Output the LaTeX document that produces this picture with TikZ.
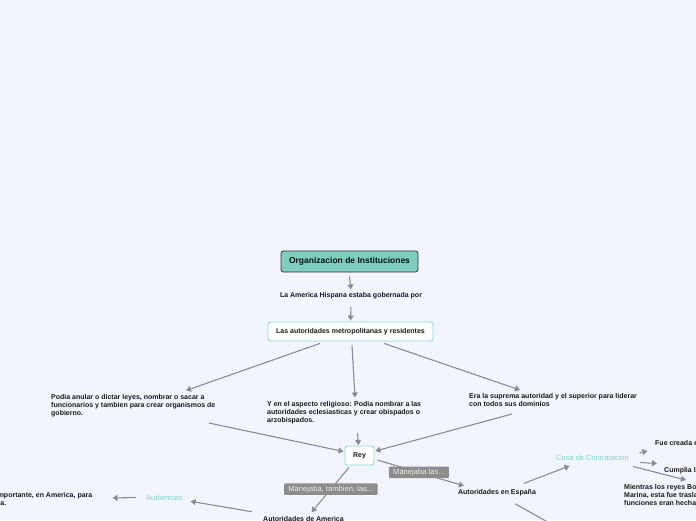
\documentclass[tikz,border=0pt]{standalone}
\usepackage{fontspec}
\setmainfont{Liberation Sans}
\usetikzlibrary{arrows.meta,calc}
\definecolor{bg}{HTML}{F3F5FE}
\definecolor{tealfill}{HTML}{7FCDBF}
\definecolor{tealline}{HTML}{8ED8D0}
\definecolor{tealtext}{HTML}{7DD3C8}
\definecolor{arrgray}{HTML}{8A8A92}
\definecolor{lblgray}{HTML}{8C8C8C}
\begin{document}
\begin{tikzpicture}[x=1pt,y=-1pt,
  txt/.style={font=\fontsize{7}{8}\selectfont\bfseries, text=black!90, inner sep=0pt, align=left},
  box/.style={draw=tealline, fill=white, rounded corners=2.5pt, line width=0.9pt, inner sep=0pt,
    font=\fontsize{7}{8}\selectfont\bfseries, text=black!90},
  topic/.style={font=\fontsize{7.5}{9}\selectfont, text=tealtext, inner sep=0pt},
  arr/.style={draw=arrgray, line width=1.1pt, -{Triangle[length=5pt,width=6pt]}},
  lbl/.style={fill=lblgray, text=white!92!black, rounded corners=1pt, inner sep=0pt,
    font=\fontsize{7.6}{9}\selectfont}
]
\useasboundingbox (0,0) rectangle (696,520);
\clip (0,0) rectangle (696,520);
\fill[bg] (0,0) rectangle (696,520);

% main nodes
\node[draw=black!80, fill=tealfill, rounded corners=2.5pt, line width=0.8pt,
  minimum width=137pt, minimum height=21pt, inner sep=0pt,
  font=\fontsize{8.5}{10}\selectfont\bfseries, text=black!85!teal] (title) at (349.5,261.5) {Organizacion de Instituciones};
\node[txt] (gob) at (351,296) {La America Hispana estaba gobernada por};
\node[box, minimum width=165pt, minimum height=19pt] (auth) at (350.5,331.5) {Las autoridades metropolitanas y residentes};
\node[txt, anchor=north west] (left) at (51,394.5) {Podia anular o dictar leyes, nombrar o sacar a\\funcionarios y tambien para crear organismos de\\gobierno.};
\node[txt, anchor=north west] (mid) at (267,401.5) {Y en el aspecto religioso: Podia nombrar a las\\autoridades eclesiasticas y crear obispados o\\arzobispados.};
\node[txt, anchor=north west] (right) at (469,393.5) {Era la suprema autoridad y el superior para liderar\\con todos sus dominios};
\node[box, minimum width=29pt, minimum height=19pt] (rey) at (359.5,455.5) {Rey};
\node[txt] (esp) at (497,492.3) {Autoridades en España};
\node[txt] (ame) at (303.5,519) {Autoridades de America};
\node[topic] (casa) at (592.5,457.5) {Casa de Contratacion};
\node[topic] (aud) at (164.5,497.5) {Audiencias};
\node[txt, align=right, anchor=north east] (audtxt) at (92.5,492.5) {El tribunal de justicia mas importante, en America, para\\administrar la justicia.\kern86pt};
\node[txt, anchor=north west] (fue) at (655,440.5) {Fue creada en 1503};
\node[txt, anchor=north west] (cum) at (664,467) {Cumplia la funcion};
\node[txt, anchor=north west] (mie) at (624,484.5) {Mientras los reyes Borbones\\Marina, esta fue trasladada\\funciones eran hechas};
\coordinate (espdown) at (571,535);

% connectors
\draw[arr] ([yshift=-4pt]title.south) -- ([yshift=3pt]gob.north);
\draw[arr] ([yshift=-7.5pt]gob.south) -- ([yshift=1pt]auth.north);
\draw[arr] ([xshift=-30.5pt,yshift=-2pt]auth.south) -- ([xshift=135pt,yshift=4pt]left.north west);
\draw[arr] ([xshift=1.5pt,yshift=-4pt]auth.south) -- ([xshift=88pt,yshift=4pt]mid.north west);
\draw[arr] ([xshift=33.5pt,yshift=-2pt]auth.south) -- ([xshift=51pt,yshift=3.5pt]right.north west);
\draw[arr] ([xshift=158pt,yshift=-28.5pt]left.north west) -- ([xshift=-1pt,yshift=4pt]rey.west);
\draw[arr] ([xshift=90.5pt,yshift=-31.5pt]mid.north west) -- ([xshift=-1pt,yshift=0.5pt]rey.north);
\draw[arr] ([xshift=43pt,yshift=-20.5pt]right.north west) -- ([xshift=1pt,yshift=4.5pt]rey.east);
\draw[arr] ([xshift=3pt,yshift=-4.5pt]rey.east) -- node[lbl, pos=0.48, minimum width=60pt, minimum height=11.5pt] {Manejaba las...} ([xshift=6pt,yshift=3pt]esp.north west);
\draw[arr] ([xshift=-10.5pt,yshift=-2pt]rey.south) -- node[lbl, pos=0.485, minimum width=93.5pt, minimum height=11.5pt] {Manejaba, tambien, las...} ([xshift=8pt,yshift=4pt]ame.north);
\draw[arr] ([xshift=-51.5pt,yshift=4.5pt]ame.north) -- ([xshift=7.5pt,yshift=-3.8pt]aud.east);
\draw[arr] ([xshift=-10pt]aud.west) -- ([xshift=20pt,yshift=-5.5pt]audtxt.north east);
\draw[arr] ([xshift=27pt,yshift=5.5pt]esp.north) -- ([xshift=-23pt,yshift=-5.5pt]casa.south);
\draw[arr] ([xshift=10.5pt,yshift=4.5pt]casa.east) -- ([xshift=-7.5pt,yshift=-7.5pt]fue.west);
\draw[arr] ([xshift=11pt,yshift=-5pt]casa.east) -- ([xshift=-7pt,yshift=7pt]cum.west);
\draw[arr] ([xshift=4pt,yshift=-9pt]casa.east) -- ([xshift=62pt,yshift=4.5pt]mie.north west);
\draw[arr] ([xshift=18pt,yshift=-8pt]esp.south) -- (espdown);
\end{tikzpicture}
\end{document}
